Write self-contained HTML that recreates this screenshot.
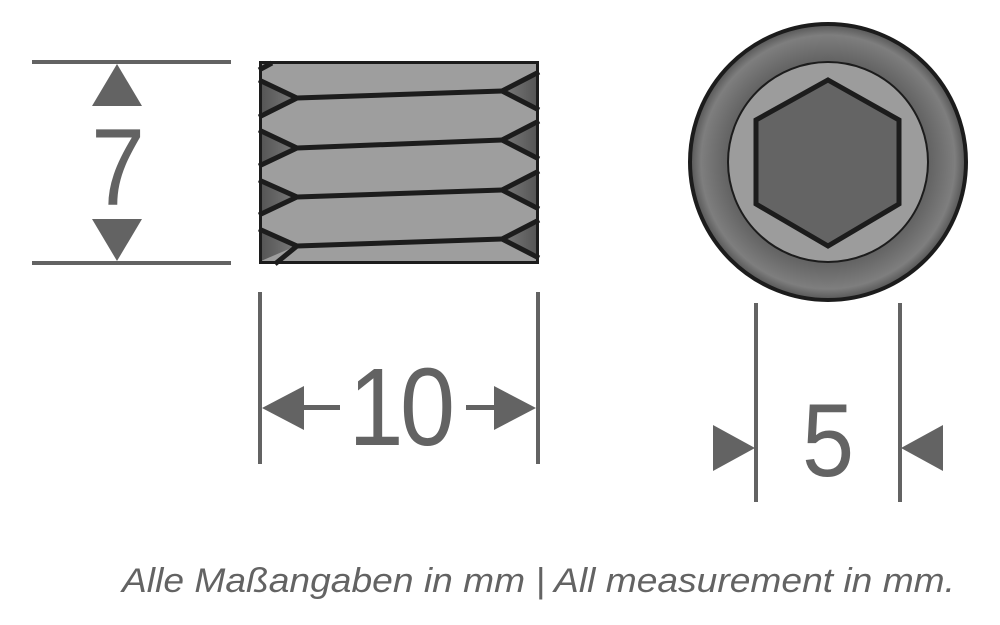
<!DOCTYPE html>
<html><head><meta charset="utf-8"><style>
html,body{margin:0;padding:0;background:#fff;}
svg{display:block;}
text{font-family:"Liberation Sans",sans-serif;fill:#636363;}
</style></head><body>
<svg width="1000" height="625" viewBox="0 0 1000 625">
<defs>
<radialGradient id="rg" cx="0.5" cy="0.5" r="0.5">
<stop offset="0.65" stop-color="#575757"/>
<stop offset="0.92" stop-color="#7e7e7e"/>
<stop offset="1" stop-color="#555"/>
</radialGradient>
<linearGradient id="tl" x1="0" x2="1"><stop offset="0" stop-color="#555"/><stop offset="1" stop-color="#7a7a7a"/></linearGradient>
<linearGradient id="tr" x1="0" x2="1"><stop offset="0" stop-color="#7a7a7a"/><stop offset="1" stop-color="#555"/></linearGradient>
</defs>
<g fill="#636363" stroke="none">
<rect x="32" y="60" width="199" height="4"/>
<rect x="32" y="261" width="199" height="4"/>
<polygon points="117,64 142,106 92,106"/>
<polygon points="117,261 142,219 92,219"/>
</g>
<text x="118" y="205" font-size="110" text-anchor="middle" transform="translate(118 0) scale(0.88 1) translate(-118 0)">7</text>
<rect x="259" y="61" width="280" height="203" fill="#9e9e9e"/>
<g>
<polygon points="261,83 296,98 261,113" fill="url(#tl)"/>
<polygon points="261,133 296,148 261,163" fill="url(#tl)"/>
<polygon points="261,183 296,197 261,212" fill="url(#tl)"/>
<polygon points="261,232 296,246 261,261" fill="url(#tl)"/>
<polygon points="537,76 503,91 537,106" fill="url(#tr)"/>
<polygon points="537,125 503,140 537,155" fill="url(#tr)"/>
<polygon points="537,175 503,190 537,205" fill="url(#tr)"/>
<polygon points="537,224 503,239 537,254" fill="url(#tr)"/>
</g>
<g stroke="#1c1c1c" stroke-width="5" fill="none" stroke-linejoin="miter">
<polyline points="259,80 297,98 259,117"/>
<polyline points="259,130 297,148 259,166"/>
<polyline points="259,180 297,197 259,215"/>
<polyline points="259,229 297,246 275,264"/>
<polyline points="539,72 502,91 539,110"/>
<polyline points="539,121 502,140 539,159"/>
<polyline points="539,171 502,190 539,209"/>
<polyline points="539,220 502,239 539,258"/>
<line x1="297" y1="98" x2="502" y2="91"/>
<line x1="297" y1="148" x2="502" y2="140"/>
<line x1="297" y1="197" x2="502" y2="190"/>
<line x1="297" y1="246" x2="502" y2="239"/>
<line x1="259" y1="70" x2="272" y2="63"/>
<rect x="260.5" y="62.5" width="277" height="200" stroke-width="3"/>
</g>
<g fill="#636363">
<rect x="258" y="292" width="4" height="172"/>
<rect x="536" y="292" width="4" height="172"/>
<polygon points="262,408 304,386 304,430"/>
<rect x="304" y="405" width="36" height="5"/>
<polygon points="536,408 494,386 494,430"/>
<rect x="466" y="405" width="30" height="5"/>
</g>
<text x="400" y="445" font-size="110" text-anchor="middle" letter-spacing="-4" transform="translate(400 0) scale(0.9 1) translate(-400 0)">10</text>
<circle cx="828" cy="162" r="138" fill="url(#rg)" stroke="#1c1c1c" stroke-width="4"/>
<circle cx="828" cy="162" r="100" fill="#9c9c9c" stroke="#1c1c1c" stroke-width="2"/>
<polygon points="828,80 899,120 899,204 828,246 756,204 756,120" fill="#646464" stroke="#1c1c1c" stroke-width="5"/>
<g fill="#636363">
<rect x="754" y="303" width="4" height="199"/>
<rect x="898" y="303" width="4" height="199"/>
<polygon points="755,448 713,425 713,471"/>
<polygon points="901,448 943,425 943,471"/>
</g>
<text x="828" y="476" font-size="104" text-anchor="middle" transform="translate(828 0) scale(0.9 1) translate(-828 0)">5</text>
<text x="122" y="592" font-size="34" font-style="italic" textLength="833" lengthAdjust="spacingAndGlyphs">Alle Maßangaben in mm | All measurement in mm.</text>
</svg>
</body></html>
